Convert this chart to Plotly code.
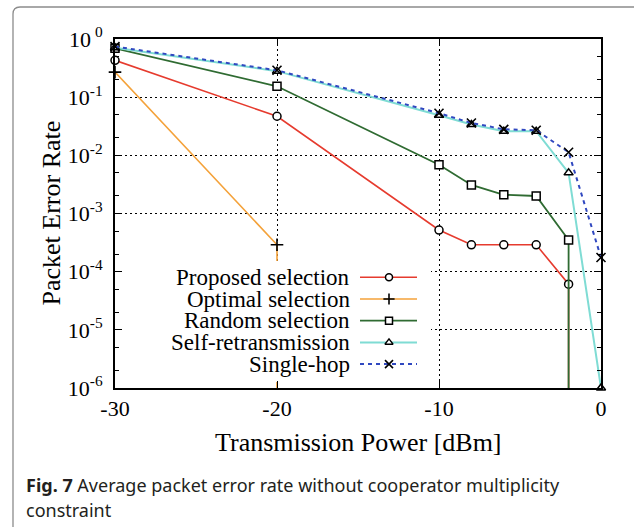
import plotly.graph_objects as go

# ---- data: average packet error rate vs. transmission power ----
power_dbm = [-30, -20, -10, -8, -6, -4, -2, 0]
per_proposed = [0.43, 0.047, 5.2e-4, 2.9e-4, 2.9e-4, 2.9e-4, 6.1e-5]
per_optimal = [0.27, 2.9e-4]
per_random = [0.69, 0.154, 6.9e-3, 3.1e-3, 2.1e-3, 2.0e-3, 3.5e-4]
per_self = [0.71, 0.28, 0.049, 0.034, 0.026, 0.026, 5.0e-3, 1.0e-6]
per_single = [0.74, 0.29, 0.053, 0.036, 0.028, 0.027, 0.0113, 1.75e-4]
# error-free operation: the curve leaves the bottom of the log axis
no_error = 1e-9

series_names = ["Proposed selection", "Optimal selection", "Random selection",
                "Self-retransmission", "Single-hop"]
x_ticks = [-30, -20, -10, 0]
x_tick_text = ["-30", "-20", "-10", "0"]
y_ticks = [1e-6, 1e-5, 1e-4, 1e-3, 1e-2, 1e-1, 1]
y_tick_text = ["10<sup>-6</sup>", "10<sup>-5</sup>", "10<sup>-4</sup>", "10<sup>-3</sup>",
               "10<sup>-2</sup>", "10<sup>-1</sup>", "10<sup> 0</sup>"]

# ---- styling ----
W, H = 634, 527
ML, MR, MT, MB = 115, 33, 39, 139
SERIF = "Liberation Serif, Times New Roman, serif"
styles = [
    dict(color="#e63b2e", width=1.6, dash="solid", symbol="circle"),
    dict(color="#f4a23a", width=1.6, dash="solid", symbol="cross-thin"),
    dict(color="#2f6b32", width=1.8, dash="solid", symbol="square"),
    dict(color="#7fdcd4", width=2.0, dash="solid", symbol="triangle-up"),
    dict(color="#3048c0", width=2.0, dash="4px,4px", symbol="x-thin"),
]


def px_x(px):
    return (px - ML) / (W - ML - MR)


def px_y(py):
    return (H - MB - py) / (H - MT - MB)


def marker_for(st, size=8):
    if st["symbol"] in ("cross-thin", "x-thin"):
        return dict(symbol=st["symbol"], size=size + 1, color="black",
                    line=dict(color="black", width=1.6))
    return dict(symbol=st["symbol"], size=size, color="white",
                line=dict(color="black", width=1.5))


curves = [
    (power_dbm[:7] + [-2], per_proposed + [no_error]),
    (power_dbm[:2] + [-20], per_optimal + [no_error]),
    (power_dbm[:7] + [-2], per_random + [no_error]),
    (power_dbm, per_self),
    (power_dbm, per_single),
]

fig = go.Figure()
for (xs, ys), st, name in zip(curves, styles, series_names):
    fig.add_trace(go.Scatter(
        x=xs, y=ys, name=name, mode="lines+markers", cliponaxis=False,
        line=dict(color=st["color"], width=st["width"], dash=st["dash"]),
        marker=marker_for(st), showlegend=False, hoverinfo="skip"))

# ---- key: opaque box with samples on an overlay in pixel units ----
key_rows = [277.3, 299.0, 320.7, 342.4, 364.1]
fig.add_trace(go.Scatter(
    x=[116.5, 431, 431, 116.5, 116.5], y=[261, 261, 382, 382, 261],
    xaxis="x2", yaxis="y2", mode="lines", fill="toself", fillcolor="white",
    line=dict(width=0, color="white"), showlegend=False, hoverinfo="skip"))
for row, st in zip(key_rows, styles):
    fig.add_trace(go.Scatter(
        x=[360, 417], y=[row, row], xaxis="x2", yaxis="y2", mode="lines",
        line=dict(color=st["color"], width=st["width"], dash=st["dash"]),
        showlegend=False, hoverinfo="skip"))
    fig.add_trace(go.Scatter(
        x=[389], y=[row], xaxis="x2", yaxis="y2", mode="markers",
        marker=marker_for(st, 7), showlegend=False, hoverinfo="skip"))

annotations = []
for row, name in zip(key_rows, series_names):
    annotations.append(dict(
        x=px_x(352), y=px_y(row), xref="paper", yref="paper", text=name,
        showarrow=False, xanchor="right", yanchor="middle",
        font=dict(family=SERIF, size=23, color="black")))

# axis titles
annotations.append(dict(
    x=px_x(358), y=px_y(443), xref="paper", yref="paper",
    text="Transmission Power [dBm]", showarrow=False,
    xanchor="center", yanchor="middle",
    font=dict(family=SERIF, size=26, color="black")))
annotations.append(dict(
    x=px_x(51), y=px_y(213.5), xref="paper", yref="paper",
    text="Packet Error Rate", showarrow=False, textangle=-90,
    xanchor="center", yanchor="middle",
    font=dict(family=SERIF, size=26, color="black")))

# caption
CAP = "Noto Sans, Open Sans, sans-serif"
annotations.append(dict(
    x=px_x(24), y=px_y(485), xref="paper", yref="paper",
    text="<b>Fig. 7</b> Average packet error rate without cooperator multiplicity",
    showarrow=False, xanchor="left", yanchor="middle",
    font=dict(family=CAP, size=18, color="#231f20")))
annotations.append(dict(
    x=px_x(24), y=px_y(510), xref="paper", yref="paper",
    text="constraint", showarrow=False, xanchor="left", yanchor="middle",
    font=dict(family=CAP, size=18, color="#231f20")))

# rounded outer frame
fx0, fy0, r = 13, 7, 7
frame_path = (f"M {px_x(fx0)},{px_y(560)} L {px_x(fx0)},{px_y(fy0 + r)} "
              f"Q {px_x(fx0)},{px_y(fy0)} {px_x(fx0 + r)},{px_y(fy0)} "
              f"L {px_x(660)},{px_y(fy0)}")
shapes = [dict(type="path", path=frame_path, xref="paper", yref="paper",
               line=dict(color="#8c8c8c", width=1.3), layer="below")]

axis_common = dict(
    ticks="inside", ticklen=7, tickwidth=1.3, tickcolor="black",
    mirror="allticks", showline=True, linewidth=2, linecolor="black",
    showgrid=True, gridcolor="black", gridwidth=1, griddash="2px,3px",
    zeroline=False, layer="above traces",
    tickfont=dict(family=SERIF, size=22, color="black"),
)

minor_vals = [m * 10.0 ** e for e in range(-6, 0) for m in (2, 5)]

fig.update_layout(
    width=W, height=H,
    margin=dict(l=ML, r=MR, t=MT, b=MB),
    paper_bgcolor="white", plot_bgcolor="white",
    showlegend=False,
    xaxis=dict(range=[-30, 0], tickmode="array", tickvals=x_ticks,
               ticktext=x_tick_text, ticklabelstandoff=0, **axis_common),
    yaxis=dict(type="log", range=[-6, 0], tickmode="array", tickvals=y_ticks,
               ticktext=y_tick_text, ticklabelstandoff=6,
               minor=dict(ticks="inside", ticklen=4, tickcolor="black",
                          tickmode="array", tickvals=minor_vals, showgrid=False),
               **axis_common),
    xaxis2=dict(overlaying="x", range=[ML, W - MR], visible=False, fixedrange=True),
    yaxis2=dict(overlaying="y", range=[H - MB, MT], visible=False, fixedrange=True),
    annotations=annotations,
    shapes=shapes,
)

fig.write_html("out.html")
